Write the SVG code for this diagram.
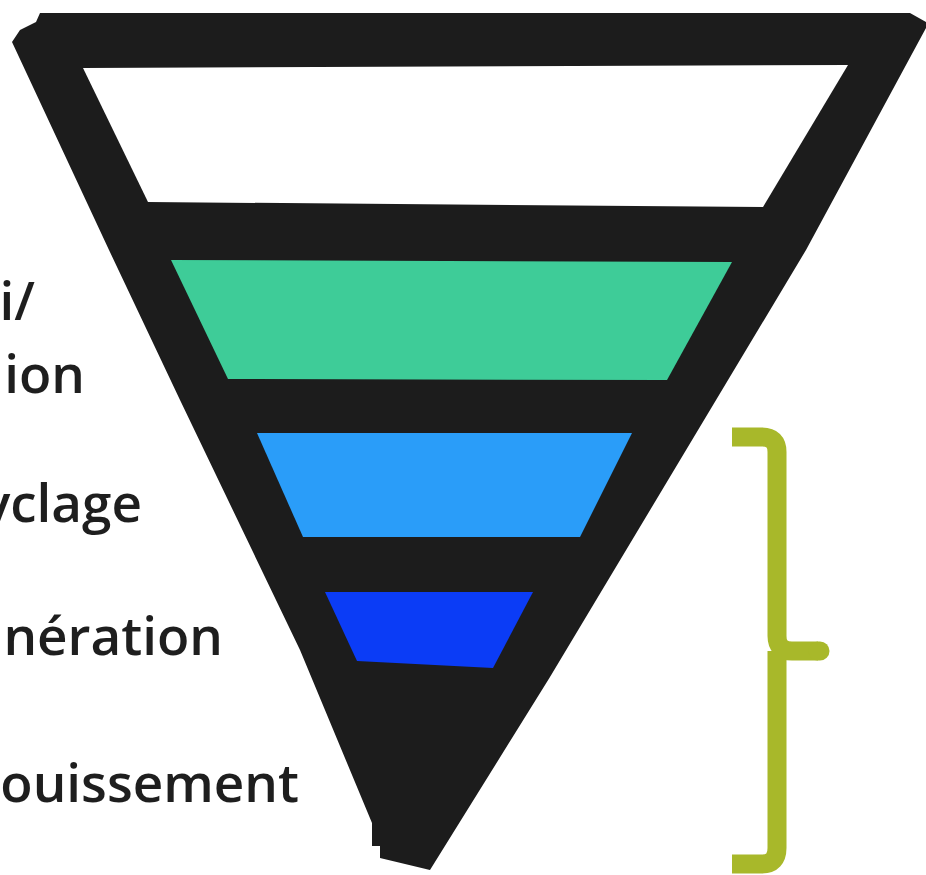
<svg xmlns="http://www.w3.org/2000/svg" width="926" height="875" viewBox="0 0 926 875">
  <style>
    .lbl { font-family: "Open Sans", "Liberation Sans", sans-serif; font-weight: 600; font-size: 53px; fill: #1e1e1e; text-anchor: end; }
    .band { stroke: none; }
    .brace { fill: none; stroke: #a8b82a; stroke-width: 19; }
  </style>
  <rect width="926" height="875" fill="#ffffff"/>
  <g id="labels">
    <text class="lbl" x="35" y="320">i/</text>
    <text class="lbl" x="85" y="393">ion</text>
    <text class="lbl" x="142" y="522">yclage</text>
    <text class="lbl" x="223" y="655">nération</text>
    <text class="lbl" x="299" y="802">ouissement</text>
  </g>
  <g id="funnel">
    <polygon fill="#1c1c1c" points="40,13 910,13 926,22 926,28 806,250 550,677 430,870 380,858 380,846 372,846 372,823 300,650 180,400 109,250 12,42 20,30 36,22"/>
  </g>
  <g id="level-top">
    <polygon fill="#ffffff" points="83,68 848,65 763,207 148,202"/>
  </g>
  <g id="level-green">
    <polygon class="band" fill="#3ecc98" points="171,260 732,262 667,380 228,379"/>
  </g>
  <g id="level-blue">
    <polygon class="band" fill="#2a9df9" points="257,433 632,433 580,537 303,537"/>
  </g>
  <g id="level-darkblue">
    <polygon class="band" fill="#0b3cf6" points="325,592 533,592 493,668 357,661"/>
  </g>
  <g id="connectors">
    <path class="brace" d="M732,437 L762,437 Q777,437 777,452 L777,636 Q777,651 792,651 L818,651" stroke-linecap="butt"/>
    <path class="brace" d="M818,651 L820,651" stroke-linecap="round"/>
    <path class="brace" d="M777,651 L777,848 Q777,864 762,864 L732,864"/>
  </g>
</svg>
